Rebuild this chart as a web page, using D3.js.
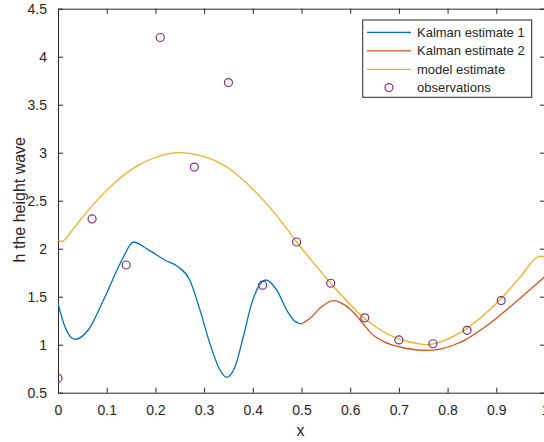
<!DOCTYPE html>
<html>
<head>
<meta charset="utf-8">
<script src="https://cdn.jsdelivr.net/npm/d3@7"></script>
<style>
  html, body { margin: 0; padding: 0; background: #fff; }
  svg { display: block; }
  text { font-family: "Liberation Sans", Arial, Helvetica, sans-serif; fill: #262626; }
</style>
</head>
<body>
<svg id="chart" width="544" height="442"></svg>
<script>
// ---- data ----
const obsX = [0, 0.07, 0.14, 0.21, 0.28, 0.35, 0.42, 0.49, 0.56, 0.63, 0.70, 0.77, 0.84, 0.91];
const obsY = [0.65, 2.31, 1.83, 4.2, 2.85, 3.73, 1.62, 2.07, 1.64, 1.28, 1.05, 1.01, 1.15, 1.46];

const modelX = [0, 0.008, 0.03, 0.062, 0.1, 0.131, 0.165, 0.2, 0.247, 0.3, 0.35, 0.4, 0.45, 0.49, 0.525, 0.56, 0.595, 0.63, 0.665, 0.7, 0.735, 0.757, 0.785, 0.813, 0.837, 0.87, 0.906, 0.95, 0.981, 0.988, 1.0];
const modelY = [2.09, 2.075, 2.2, 2.40, 2.61, 2.75, 2.87, 2.95, 3.0, 2.96, 2.84, 2.62, 2.34, 2.07, 1.85, 1.64, 1.445, 1.27, 1.145, 1.06, 1.015, 1.0, 1.03, 1.09, 1.16, 1.29, 1.46, 1.71, 1.9, 1.92, 1.92];

const k1X = [0, 0.014, 0.035, 0.062, 0.0965, 0.131, 0.155, 0.185, 0.22, 0.247, 0.27, 0.2916, 0.312, 0.3326, 0.3463, 0.3634, 0.3805, 0.3977, 0.411, 0.427, 0.449, 0.4696, 0.485, 0.5];
const k1Y = [1.43, 1.19, 1.056, 1.153, 1.5, 1.88, 2.07, 1.99, 1.88, 1.81, 1.68, 1.36, 1.01, 0.736, 0.66, 0.77, 1.083, 1.43, 1.6, 1.674, 1.57, 1.36, 1.25, 1.215];

const k2X = [0.5, 0.5175, 0.54, 0.565, 0.59, 0.61, 0.627, 0.645, 0.67, 0.699, 0.73, 0.755, 0.785, 0.813, 0.836, 0.87, 0.906, 0.95, 1.0];
const k2Y = [1.215, 1.275, 1.39, 1.46, 1.41, 1.32, 1.215, 1.11, 1.03, 0.98, 0.95, 0.94, 0.955, 0.997, 1.05, 1.16, 1.30, 1.49, 1.71];

const xTicks = [0, 0.1, 0.2, 0.3, 0.4, 0.5, 0.6, 0.7, 0.8, 0.9, 1];
const yTicks = [0.5, 1, 1.5, 2, 2.5, 3, 3.5, 4, 4.5];
const legendLabels = ["Kalman estimate 1", "Kalman estimate 2", "model estimate", "observations"];
const colors = ["#0072BD", "#D95319", "#EDB120", "#7E2F8E"];

// ---- layout ----
const svg = d3.select("#chart");
const L = 58, R = 545, T = 8.7, B = 392.7;
const x = d3.scaleLinear().domain([0, 1]).range([L, R]);
const y = d3.scaleLinear().domain([0.5, 4.5]).range([B, T]);
const axisColor = "#262626";

svg.append("defs").append("clipPath").attr("id", "clip")
  .append("rect").attr("x", L).attr("y", T).attr("width", R - L).attr("height", B - T);

const fmt = d => d3.format("")(d);

// axes (MATLAB style, inward ticks, box)
function styleAxis(g) {
  g.selectAll("path.domain").attr("stroke", axisColor).attr("stroke-width", 1);
  g.selectAll(".tick line").attr("stroke", axisColor).attr("stroke-width", 1);
  g.selectAll(".tick text").style("font-size", "14px").attr("fill", axisColor);
}
const gx = svg.append("g").attr("transform", `translate(0,${B})`)
  .call(d3.axisBottom(x).tickValues(xTicks).tickFormat(fmt).tickSizeInner(-5).tickSizeOuter(0).tickPadding(12));
styleAxis(gx);
gx.selectAll(".tick text").attr("dy", "0.71em");
const gxTop = svg.append("g").attr("transform", `translate(0,${T})`)
  .call(d3.axisTop(x).tickValues(xTicks).tickFormat("").tickSizeInner(-5).tickSizeOuter(0));
styleAxis(gxTop);
const gy = svg.append("g").attr("transform", `translate(${L},0)`)
  .call(d3.axisLeft(y).tickValues(yTicks).tickFormat(fmt).tickSizeInner(-5).tickSizeOuter(0).tickPadding(11));
styleAxis(gy);
const gyR = svg.append("g").attr("transform", `translate(${R},0)`)
  .call(d3.axisRight(y).tickValues(yTicks).tickFormat("").tickSizeInner(-5).tickSizeOuter(0));
styleAxis(gyR);

// axis labels
svg.append("text").attr("x", (L + R) / 2 - 1).attr("y", 436).attr("text-anchor", "middle")
  .style("font-size", "16px").text("x");
svg.append("text").attr("transform", `translate(25,${(T + B) / 2 - 1}) rotate(-90)`)
  .attr("text-anchor", "middle").style("font-size", "16px").text("h the height wave");

// lines
const plot = svg.append("g").attr("clip-path", "url(#clip)");
const line = d3.line().x(d => x(d[0])).y(d => y(d[1])).curve(d3.curveMonotoneX);
const series = [
  { xs: k1X, ys: k1Y, c: colors[0] },
  { xs: k2X, ys: k2Y, c: colors[1] },
  { xs: modelX, ys: modelY, c: colors[2] }
];
[series[2], series[0], series[1]].forEach(s => {
  plot.append("path").datum(d3.zip(s.xs, s.ys))
    .attr("fill", "none").attr("stroke", s.c).attr("stroke-width", 1.3)
    .attr("stroke-linejoin", "round")
    .attr("d", line);
});

// observations
plot.selectAll("circle.obs").data(d3.zip(obsX, obsY)).enter().append("circle")
  .attr("class", "obs")
  .attr("cx", d => x(d[0])).attr("cy", d => y(d[1])).attr("r", 4)
  .attr("fill", "none").attr("stroke", colors[3]).attr("stroke-width", 1.2);

// legend
const lg = svg.append("g");
const lx0 = 362.7, ly0 = 20, lw = 169, lh = 77.3;
lg.append("rect").attr("x", lx0).attr("y", ly0).attr("width", lw).attr("height", lh)
  .attr("fill", "#fff").attr("stroke", axisColor).attr("stroke-width", 1);
const rowY = [32.3, 50.8, 69.3, 87.6];
legendLabels.forEach((lab, i) => {
  const yy = rowY[i];
  if (i < 3) {
    lg.append("line").attr("x1", 367).attr("x2", 411).attr("y1", yy).attr("y2", yy)
      .attr("stroke", colors[i]).attr("stroke-width", 1.3);
  } else {
    lg.append("circle").attr("cx", 389).attr("cy", yy).attr("r", 4)
      .attr("fill", "none").attr("stroke", colors[3]).attr("stroke-width", 1.2);
  }
  lg.append("text").attr("x", 417).attr("y", yy).attr("dy", "0.35em")
    .style("font-size", "13px").text(lab);
});
</script>
</body>
</html>
